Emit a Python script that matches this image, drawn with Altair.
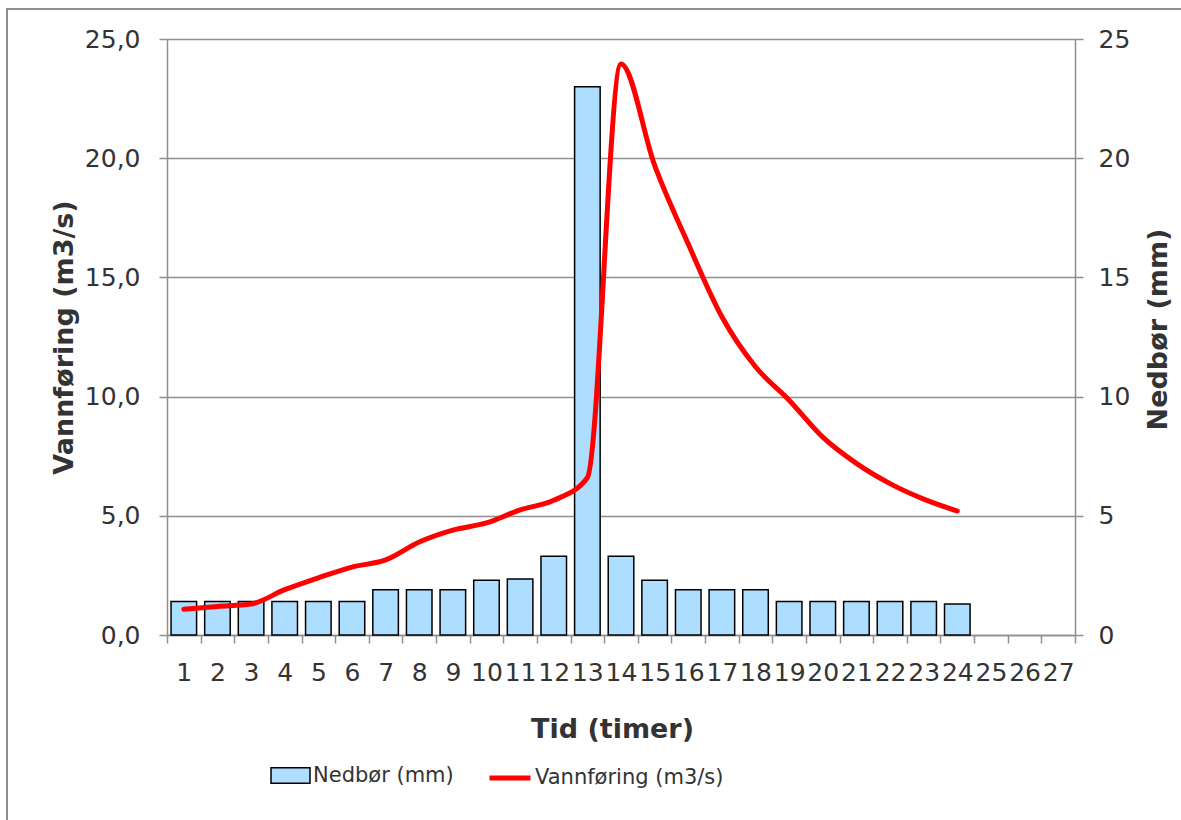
import altair as alt
import pandas as pd

# ---- data ----
hours = list(range(1, 25))
categories = list(range(1, 28))
nedbor = [1.4, 1.4, 1.4, 1.4, 1.4, 1.4, 1.9, 1.9, 1.9, 2.3, 2.35, 3.3,
          23.0, 3.3, 2.3, 1.9, 1.9, 1.9, 1.4, 1.4, 1.4, 1.4, 1.4, 1.3]
vannforing = [1.08, 1.2, 1.3, 1.9, 2.4, 2.85, 3.15, 3.9, 4.4, 4.7, 5.25, 5.65,
              6.6, 23.95, 19.7, 16.4, 13.35, 11.25, 9.85, 8.3, 7.2, 6.35, 5.7, 5.2]
y_ticks = [0, 5, 10, 15, 20, 25]
bar_label = "Nedbør (mm)"
line_label = "Vannføring (m3/s)"

df = pd.DataFrame({"time": hours, "nedbor": nedbor, "vann": vannforing})

GRAY = "#8f8f8f"
TXT = "#333333"
FONT = "DejaVu Sans"
W, H = 908, 596

x_enc = alt.X(
    "time:O",
    scale=alt.Scale(domain=categories, paddingInner=0, paddingOuter=0),
    axis=alt.Axis(
        title="Tid (timer)", labelAngle=0, labelFontSize=25, labelColor=TXT,
        labelFont=FONT, labelPadding=17, labelOverlap=False,
        tickBand="extent", tickSize=8, tickColor=GRAY, tickWidth=1.5,
        domainColor=GRAY, domainWidth=1.5, grid=False,
        titleFontSize=27, titleFont=FONT, titleFontWeight="bold", titleColor=TXT,
        titleX=445, titleY=102, titleBaseline="alphabetic", titleAlign="center",
    ),
)

border = alt.Chart(alt.Data(values=[{"a": 1}])).mark_rect(
    fillOpacity=0, stroke=GRAY, strokeWidth=2
).encode(
    x=alt.value(-160), x2=alt.value(1023), y=alt.value(-30), y2=alt.value(791)
)

bars = alt.Chart(df).transform_calculate(s1="'" + bar_label + "'").mark_bar(
    width=alt.RelativeBandSize(0.76), stroke="black", strokeWidth=1.5
).encode(
    x=x_enc,
    y=alt.Y(
        "nedbor:Q",
        scale=alt.Scale(domain=[0, 25], nice=False),
        axis=alt.Axis(
            orient="right", values=y_ticks, format="d", title=bar_label,
            labelFontSize=25, labelColor=TXT, labelFont=FONT, labelPadding=15,
            tickSize=8, tickColor=GRAY, tickWidth=1.5,
            domainColor=GRAY, domainWidth=1.5, grid=False,
            titleFontSize=27, titleFont=FONT, titleFontWeight="bold", titleColor=TXT,
            titleAngle=270, titleX=91, titleY=290, titleBaseline="alphabetic",
            titleAlign="center",
        ),
    ),
    fill=alt.Fill(
        "s1:N",
        scale=alt.Scale(domain=[bar_label], range=["#ADDDFF"]),
        legend=alt.Legend(
            title=None, orient="none", legendX=103, legendY=716, padding=0,
            symbolType="M-1,-0.4H1V0.4H-1Z", symbolSize=1521,
            symbolStrokeColor="black", symbolStrokeWidth=1.5,
            labelFontSize=21, labelFont=FONT, labelColor=TXT, labelOffset=2,
            labelLimit=0,
        ),
    ),
)

line = alt.Chart(df).transform_calculate(s2="'" + line_label + "'").mark_line(
    interpolate="monotone", strokeWidth=5, strokeCap="round"
).encode(
    x=x_enc,
    y=alt.Y(
        "vann:Q",
        scale=alt.Scale(domain=[0, 25], nice=False),
        axis=alt.Axis(
            orient="left", values=y_ticks, title=line_label,
            labelExpr="replace(format(datum.value, '.1f'), '.', ',')",
            labelFontSize=25, labelColor=TXT, labelFont=FONT, labelPadding=19,
            tickSize=8, tickColor=GRAY, tickWidth=1.5,
            domainColor=GRAY, domainWidth=1.5,
            grid=True, gridColor=GRAY, gridWidth=1.5,
            titleFontSize=27, titleFont=FONT, titleFontWeight="bold", titleColor=TXT,
            titleAngle=270, titleX=-95, titleY=298, titleBaseline="alphabetic",
            titleAlign="center",
        ),
    ),
    stroke=alt.Stroke(
        "s2:N",
        scale=alt.Scale(domain=[line_label], range=["#FF0000"]),
        legend=alt.Legend(
            title=None, orient="none", legendX=320, legendY=716, padding=0,
            symbolType="stroke", symbolSize=1681, symbolStrokeWidth=5,
            labelFontSize=21, labelFont=FONT, labelColor=TXT, labelOffset=2,
            labelLimit=0,
        ),
    ),
)

chart = alt.layer(border, bars, line).resolve_scale(
    y="independent"
).properties(
    width=W, height=H,
    padding={"left": 167, "top": 39, "right": 106, "bottom": 185},
    autosize=alt.AutoSizeParams(type="none"),
    background="white",
).configure_view(stroke=None)

chart.save("out.html", embed_options={"renderer": "svg", "actions": False})
